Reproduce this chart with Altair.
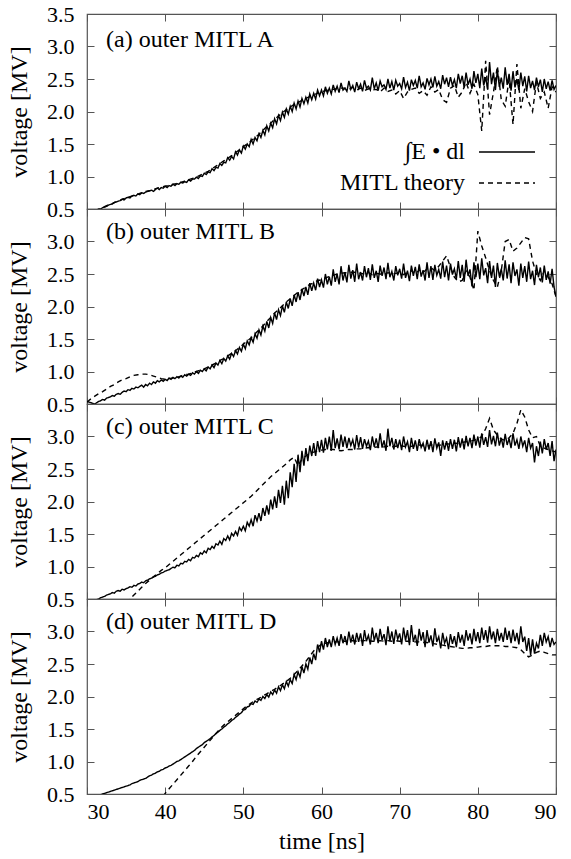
import altair as alt
import pandas as pd

SOLID = "∫E • dl"
DASHED = "MITL theory"
PANEL_TITLES = ["(a) outer MITL A", "(b) outer MITL B", "(c) outer MITL C", "(d) outer MITL D"]
X_TICKS = [30, 40, 50, 60, 70, 80, 90]
Y_TICKS = [0.5, 1.0, 1.5, 2.0, 2.5, 3.0, 3.5]
T0 = 30.0
SOLID_STEP = 0.25   # ns between solid-curve samples
DASHED_STEP = 0.5   # ns between dashed-curve samples

# ---------------- panel (a) ----------------
solid_a = [
    .42, .43, .44, .45,  .46, .47, .49, .50,  .52, .53, .54, .56,  .57, .58, .60, .61,
    .62, .63, .65, .64,  .67, .68, .67, .70,  .71, .70, .73, .72,  .75, .74, .76, .77,
    .78, .79, .77, .80,  .82, .80, .83, .82,  .85, .83, .86, .85,  .88, .86, .89, .88,
    .91, .90, .92, .91,  .95, .93, .96, .96,  .99, .97, 1.01, 1.00,  1.05, 1.03, 1.07, 1.06,
    1.12, 1.09, 1.14, 1.13,  1.20, 1.17, 1.22, 1.21,  1.29, 1.25, 1.31, 1.27,  1.38, 1.33, 1.41, 1.36,
    1.47, 1.42, 1.50, 1.46,  1.57, 1.50, 1.60, 1.55,  1.66, 1.60, 1.71, 1.64,  1.78, 1.70, 1.82, 1.75,
    1.89, 1.81, 1.94, 1.86,  1.99, 1.91, 2.04, 1.96,  2.08, 2.00, 2.13, 2.04,  2.16, 2.07, 2.20, 2.12,
    2.22, 2.13, 2.27, 2.18,  2.28, 2.19, 2.33, 2.24,  2.33, 2.24, 2.38, 2.28,  2.36, 2.27, 2.41, 2.31,
    2.39, 2.29, 2.44, 2.33,  2.36, 2.31, 2.47, 2.34,  2.40, 2.30, 2.45, 2.35,  2.42, 2.31, 2.48, 2.36,
    2.39, 2.33, 2.52, 2.35,  2.44, 2.32, 2.47, 2.38,  2.41, 2.34, 2.50, 2.36,  2.46, 2.33, 2.48, 2.39,
    2.43, 2.35, 2.53, 2.37,  2.45, 2.32, 2.49, 2.40,  2.48, 2.36, 2.55, 2.38,  2.44, 2.34, 2.51, 2.41,
    2.50, 2.37, 2.54, 2.39,  2.46, 2.35, 2.56, 2.42,  2.52, 2.38, 2.53, 2.40,  2.49, 2.36, 2.58, 2.43,
    2.55, 2.37, 2.60, 2.41,  2.50, 2.35, 2.62, 2.44,  2.58, 2.36, 2.66, 2.40,  2.53, 2.34, 2.76, 2.42,
    2.60, 2.33, 2.64, 2.38,  2.52, 2.35, 2.68, 2.41,  2.58, 2.32, 2.62, 2.37,  2.50, 2.33, 2.60, 2.39,
    2.54, 2.31, 2.55, 2.36,  2.47, 2.33, 2.52, 2.38,  2.49, 2.30, 2.50, 2.35,  2.46, 2.32, 2.48, 2.34,
    2.40,
]
dashed_a = [
    .42, .45, .47, .50, .52, .55, .57, .60, .62, .65, .67, .69, .71, .73, .75, .77, .78, .80, .82, .84,
    .85, .86, .88, .89, .91, .93, .95, .97, .99, 1.02, 1.05, 1.08, 1.12, 1.16, 1.20, 1.24, 1.28, 1.32, 1.37, 1.41,
    1.46, 1.50, 1.55, 1.60, 1.65, 1.71, 1.77, 1.82, 1.88, 1.93, 1.98, 2.03, 2.07, 2.11, 2.14, 2.17, 2.20, 2.23, 2.26, 2.28,
    2.30, 2.32, 2.33, 2.34, 2.35, 2.36, 2.36, 2.34, 2.37, 2.33, 2.36, 2.32, 2.35, 2.33, 2.34, 2.30, 2.36, 2.31, 2.33, 2.27,
    2.32, 2.20, 2.30, 2.34, 2.36, 2.28, 2.32, 2.25, 2.38, 2.30, 2.34, 2.18, 2.14, 2.36, 2.40, 2.22, 2.30, 2.45, 2.28, 2.42,
    2.26, 1.70, 2.78, 1.95, 2.30, 2.70, 2.18, 2.08, 2.50, 1.80, 2.73, 2.05, 2.35, 2.15, 2.00, 2.45, 2.20, 2.30, 2.05, 2.38,
    2.30,
]

# ---------------- panel (b) ----------------
solid_b = [
    .54, .53, .52, .51,  .50, .52, .54, .55,  .57, .56, .59, .60,  .61, .63, .62, .65,
    .66, .65, .68, .70,  .69, .72, .71, .74,  .73, .76, .75, .77,  .79, .76, .80, .78,
    .82, .80, .84, .82,  .86, .84, .87, .85,  .88, .86, .90, .88,  .91, .89, .92, .90,
    .93, .91, .95, .93,  .96, .94, .98, .96,  1.00, .97, 1.02, 1.00,  1.04, 1.01, 1.07, 1.04,
    1.10, 1.06, 1.13, 1.10,  1.17, 1.12, 1.20, 1.16,  1.24, 1.19, 1.28, 1.23,  1.32, 1.27, 1.37, 1.31,
    1.42, 1.35, 1.47, 1.41,  1.52, 1.45, 1.58, 1.51,  1.64, 1.56, 1.70, 1.62,  1.77, 1.67, 1.83, 1.74,
    1.90, 1.80, 1.95, 1.86,  2.01, 1.91, 2.07, 1.97,  2.12, 2.01, 2.18, 2.07,  2.22, 2.10, 2.27, 2.16,
    2.30, 2.18, 2.36, 2.24,  2.36, 2.25, 2.43, 2.30,  2.41, 2.29, 2.50, 2.34,  2.46, 2.32, 2.57, 2.38,
    2.50, 2.34, 2.62, 2.40,  2.53, 2.37, 2.64, 2.43,  2.56, 2.38, 2.66, 2.42,  2.53, 2.40, 2.62, 2.45,
    2.59, 2.41, 2.65, 2.44,  2.55, 2.38, 2.63, 2.47,  2.60, 2.42, 2.67, 2.45,  2.54, 2.40, 2.62, 2.48,
    2.58, 2.43, 2.66, 2.44,  2.55, 2.39, 2.63, 2.47,  2.61, 2.42, 2.65, 2.46,  2.56, 2.40, 2.68, 2.44,
    2.62, 2.41, 2.64, 2.48,  2.57, 2.43, 2.69, 2.45,  2.63, 2.40, 2.66, 2.49,  2.58, 2.42, 2.70, 2.44,
    2.64, 2.38, 2.72, 2.47,  2.57, 2.31, 2.68, 2.45,  2.66, 2.42, 2.74, 2.48,  2.59, 2.36, 2.70, 2.44,
    2.63, 2.30, 2.67, 2.46,  2.58, 2.40, 2.71, 2.43,  2.65, 2.36, 2.68, 2.47,  2.57, 2.32, 2.66, 2.44,
    2.62, 2.38, 2.69, 2.42,  2.55, 2.33, 2.64, 2.45,  2.60, 2.37, 2.63, 2.41,  2.54, 2.35, 2.58, 2.30,
    2.15,
]
dashed_b = [
    .53, .58, .62, .66, .69, .73, .77, .80, .84, .87, .89, .92, .94, .95, .96, .96, .95, .93, .91, .89,
    .88, .89, .90, .91, .93, .95, .96, .98, 1.00, 1.02, 1.04, 1.07, 1.10, 1.13, 1.17, 1.20, 1.24, 1.28, 1.32, 1.37,
    1.42, 1.47, 1.52, 1.58, 1.64, 1.70, 1.77, 1.83, 1.90, 1.95, 2.01, 2.07, 2.12, 2.17, 2.22, 2.26, 2.30, 2.34, 2.36, 2.40,
    2.41, 2.44, 2.46, 2.48, 2.50, 2.51, 2.52, 2.52, 2.53, 2.52, 2.51, 2.50, 2.52, 2.49, 2.51, 2.50, 2.49, 2.52, 2.50, 2.51,
    2.52, 2.49, 2.53, 2.55, 2.50, 2.56, 2.52, 2.58, 2.60, 2.55, 2.62, 2.70, 2.78, 2.60, 2.45, 2.38, 2.40, 2.55, 2.45, 2.25,
    3.16, 2.93, 2.75, 2.55, 2.40, 2.30, 2.55, 3.00, 3.03, 2.85, 2.90, 2.98, 3.06, 3.04, 2.70, 2.50, 2.40, 2.55, 2.45, 2.35,
    2.15,
]

# ---------------- panel (c) ----------------
solid_c = [
    .40, .42, .44, .45,  .47, .49, .50, .52,  .53, .54, .56, .57,  .58, .60, .59, .62,
    .63, .62, .65, .64,  .66, .67, .69, .68,  .71, .70, .73, .74,  .76, .75, .78, .79,
    .81, .82, .84, .85,  .87, .88, .90, .91,  .93, .94, .95, .97,  .99, .98, 1.02, 1.01,
    1.05, 1.04, 1.08, 1.07,  1.11, 1.09, 1.14, 1.13,  1.17, 1.15, 1.21, 1.19,  1.24, 1.21, 1.28, 1.26,
    1.31, 1.28, 1.35, 1.33,  1.39, 1.34, 1.43, 1.40,  1.47, 1.41, 1.51, 1.47,  1.54, 1.48, 1.60, 1.55,
    1.62, 1.55, 1.68, 1.62,  1.72, 1.62, 1.79, 1.70,  1.82, 1.70, 1.90, 1.78,  1.94, 1.80, 2.03, 1.88,
    2.08, 1.90, 2.18, 1.98,  2.24, 1.95, 2.32, 2.05,  2.45, 2.22, 2.58, 2.30,  2.72, 2.45, 2.78, 2.55,
    2.82, 2.62, 2.86, 2.70,  2.90, 2.70, 2.93, 2.76,  2.95, 2.75, 2.98, 2.80,  3.00, 2.78, 3.10, 2.82,
    2.97, 2.80, 3.03, 2.84,  3.00, 2.82, 2.98, 2.86,  2.95, 2.80, 3.02, 2.83,  2.99, 2.81, 2.96, 2.85,
    2.93, 2.79, 3.00, 2.84,  2.97, 2.82, 3.05, 2.83,  2.94, 2.78, 3.12, 2.85,  2.98, 2.80, 2.96, 2.82,
    2.95, 2.79, 3.00, 2.84,  2.92, 2.76, 2.98, 2.81,  2.94, 2.78, 2.96, 2.83,  2.90, 2.77, 2.95, 2.80,
    2.93, 2.76, 2.97, 2.82,  2.91, 2.70, 2.94, 2.80,  2.93, 2.78, 2.96, 2.81,  2.95, 2.77, 2.99, 2.83,
    2.97, 2.80, 3.01, 2.85,  2.98, 2.82, 3.03, 2.86,  3.00, 2.83, 3.05, 2.87,  2.99, 2.84, 3.10, 2.88,
    3.01, 2.85, 3.06, 2.86,  2.98, 2.83, 3.04, 2.87,  2.97, 2.82, 3.05, 2.86,  2.95, 2.81, 3.00, 2.85,
    2.94, 2.76, 2.98, 2.82,  2.90, 2.60, 2.85, 2.70,  2.92, 2.74, 2.96, 2.80,  2.90, 2.70, 2.93, 2.62,
    2.80,
]
dashed_c = [
    None, None, None, None, None, None, None, None, None, None,
    .44, .50, .56, .62, .68, .74, .79, .84, .89, .94,
    .98, 1.03, 1.08, 1.13, 1.18, 1.23, 1.28, 1.33, 1.38, 1.43, 1.48, 1.53, 1.58, 1.63, 1.68, 1.73, 1.78, 1.83, 1.88, 1.93,
    1.98, 2.03, 2.08, 2.14, 2.20, 2.26, 2.32, 2.38, 2.43, 2.48, 2.53, 2.58, 2.64, 2.68, 2.55, 2.65, 2.70, 2.74, 2.76, 2.78,
    2.79, 2.80, 2.80, 2.80, 2.79, 2.78, 2.79, 2.80, 2.80, 2.81, 2.81, 2.82, 2.83, 2.82, 2.84, 2.83, 2.84, 2.85, 2.84, 2.85,
    2.86, 2.85, 2.84, 2.85, 2.86, 2.87, 2.86, 2.85, 2.87, 2.88, 2.86, 2.88, 2.89, 2.88, 2.90, 2.89, 2.91, 2.92, 2.93, 2.94,
    2.96, 3.00, 3.12, 3.28, 3.10, 3.02, 2.96, 2.94, 2.98, 3.05, 3.20, 3.41, 3.30, 3.10, 2.98, 3.00, 2.85, 2.82, 2.80, 2.78,
    2.76,
]

# ---------------- panel (d) ----------------
solid_d = [
    .40, .42, .44, .45,  .46, .47, .48, .49,  .50, .51, .52, .53,  .54, .55, .56, .57,
    .58, .59, .60, .61,  .62, .63, .64, .66,  .67, .68, .69, .71,  .72, .73, .74, .76,
    .78, .79, .81, .82,  .84, .85, .87, .88,  .90, .91, .93, .94,  .96, .98, 1.00, 1.01,
    1.03, 1.05, 1.07, 1.09,  1.11, 1.13, 1.15, 1.17,  1.20, 1.22, 1.24, 1.26,  1.29, 1.31, 1.33, 1.35,
    1.38, 1.40, 1.43, 1.45,  1.48, 1.50, 1.53, 1.55,  1.58, 1.60, 1.63, 1.65,  1.68, 1.70, 1.73, 1.75,
    1.79, 1.80, 1.84, 1.85,  1.89, 1.88, 1.93, 1.91,  1.96, 1.94, 2.00, 1.97,  2.03, 1.99, 2.07, 2.03,
    2.10, 2.05, 2.15, 2.09,  2.18, 2.12, 2.23, 2.16,  2.26, 2.20, 2.34, 2.26,  2.38, 2.30, 2.46, 2.36,
    2.50, 2.42, 2.60, 2.50,  2.66, 2.56, 2.80, 2.68,  2.85, 2.72, 2.90, 2.76,  2.88, 2.76, 2.93, 2.80,
    2.90, 2.78, 2.96, 2.82,  2.93, 2.79, 3.00, 2.83,  2.95, 2.80, 2.98, 2.84,  2.97, 2.78, 3.02, 2.85,
    2.94, 2.80, 3.06, 2.86,  2.98, 2.82, 3.04, 2.87,  2.96, 2.79, 3.08, 2.85,  3.00, 2.81, 3.03, 2.88,
    2.97, 2.80, 3.06, 2.86,  3.02, 2.79, 3.10, 2.84,  2.95, 2.78, 3.04, 2.86,  2.99, 2.76, 3.02, 2.83,
    2.94, 2.77, 3.05, 2.84,  2.92, 2.74, 2.98, 2.82,  2.90, 2.73, 2.96, 2.81,  2.93, 2.76, 2.99, 2.83,
    2.95, 2.78, 3.02, 2.86,  2.97, 2.80, 3.04, 2.85,  2.99, 2.82, 3.06, 2.87,  3.02, 2.83, 3.08, 2.88,
    3.00, 2.82, 3.04, 2.86,  2.98, 2.84, 3.06, 2.87,  3.01, 2.82, 3.03, 2.85,  2.98, 2.80, 3.08, 2.84,
    2.92, 2.70, 2.90, 2.64,  2.88, 2.66, 2.82, 2.74,  2.95, 2.78, 2.98, 2.84,  2.92, 2.76, 2.90, 2.80,
    2.84,
]
dashed_d = [
    None, None, None, None, None, None, None, None, None, None,
    None, None, None, None, None, None, None, None, .36, .43,
    .51, .58, .65, .72, .79, .86, .93, 1.00, 1.08, 1.15, 1.22, 1.29, 1.36, 1.43, 1.50, 1.56, 1.61, 1.66, 1.71, 1.76,
    1.81, 1.86, 1.90, 1.94, 1.97, 2.01, 2.04, 2.08, 2.11, 2.15, 2.19, 2.23, 2.28, 2.34, 2.40, 2.47, 2.54, 2.62, 2.70, 2.76,
    2.80, 2.82, 2.83, 2.84, 2.84, 2.85, 2.85, 2.85, 2.86, 2.85, 2.86, 2.86, 2.86, 2.85, 2.85, 2.86, 2.85, 2.86, 2.85, 2.86,
    2.85, 2.85, 2.85, 2.84, 2.84, 2.84, 2.83, 2.83, 2.82, 2.81, 2.80, 2.79, 2.78, 2.77, 2.76, 2.75, 2.74, 2.74, 2.75, 2.75,
    2.76, 2.77, 2.77, 2.78, 2.78, 2.78, 2.78, 2.77, 2.77, 2.76, 2.75, 2.72, 2.66, 2.61, 2.64, 2.68, 2.70, 2.68, 2.66, 2.64,
    2.64,
]

SERIES = [
    (solid_a, dashed_a),
    (solid_b, dashed_b),
    (solid_c, dashed_c),
    (solid_d, dashed_d),
]

FONT = "Liberation Serif, Times New Roman, DejaVu Serif, serif"


def rows(values, step, label):
    out = []
    for i, v in enumerate(values):
        if v is None:
            continue
        out.append({"t": round(T0 + step * i, 3), "v": v, "series": label})
    return out


def make_panel(idx):
    solid, dashed = SERIES[idx]
    df = pd.DataFrame(rows(solid, SOLID_STEP, SOLID) + rows(dashed, DASHED_STEP, DASHED))
    first = idx == 0
    last = idx == len(SERIES) - 1
    xs = alt.Scale(domain=[30, 90], nice=False, zero=False)
    ys = alt.Scale(domain=[0.5, 3.5], nice=False, zero=False)

    x_axis_kw = dict(orient="bottom", values=X_TICKS, offset=-7, tickSize=7, domain=False,
                     labels=last, labelPadding=7, titlePadding=7, format="d")
    y_kw = dict(orient="left", values=Y_TICKS, offset=-7, tickSize=7, domain=False,
                format=".1f", labelPadding=13, titlePadding=15)
    if not first:
        # the 3.5 label of a lower panel would sit on the 0.5 of the panel above: leave it blank
        y_kw["labelExpr"] = "datum.value > 3.4 ? '' : datum.label"
    y_axis = alt.Axis(**y_kw)

    dash_kw = dict(scale=alt.Scale(domain=[SOLID, DASHED], range=[[1, 0], [5, 4]]))
    if first:
        dash_kw["legend"] = alt.Legend(
            orient="none", legendX=354, legendY=126, title=None,
            symbolType="M5.2,0L16.4,0", symbolSize=100, symbolStrokeWidth=1.6,
            symbolStrokeColor="black", symbolFillColor="transparent",
            labelAlign="right", labelOffset=0, labelFont=FONT, labelFontSize=24,
            labelColor="black", rowPadding=7, labelLimit=300,
        )
    else:
        dash_kw["legend"] = None

    x_enc = alt.X("t:Q", scale=xs, axis=alt.Axis(**x_axis_kw),
                  title="time [ns]" if last else None)
    main = alt.Chart(df).mark_line(strokeWidth=1.4, clip=True, color="black").encode(
        x=x_enc,
        y=alt.Y("v:Q", scale=ys, axis=y_axis, title="voltage [MV]"),
        strokeDash=alt.StrokeDash("series:N", **dash_kw),
    )
    mirror = alt.Chart(df).mark_line(opacity=0).encode(
        x=alt.X("t:Q", scale=xs, title=None,
                axis=alt.Axis(orient="top", values=X_TICKS, offset=-7, tickSize=7,
                              domain=False, labels=False)),
        y=alt.Y("v:Q", scale=ys, title=None,
                axis=alt.Axis(orient="right", values=Y_TICKS, offset=-7, tickSize=7,
                              domain=False, labels=False)),
    )
    return alt.layer(main, mirror).resolve_axis(x="independent", y="independent").properties(
        width=469, height=195,
        title=alt.TitleParams(PANEL_TITLES[idx], anchor="start", orient="top", frame="group",
                              offset=-29, dx=19, dy=32 if first else 18, baseline="middle",
                              fontSize=24, font=FONT, fontWeight="normal", color="black"),
    )


panels = [make_panel(i) for i in range(4)]

chart = alt.vconcat(*panels, spacing=0, bounds="flush").resolve_scale(
    strokeDash="independent"
).properties(
    padding={"left": 6, "top": 2, "right": 2, "bottom": 2}
).configure_axis(
    labelFont=FONT, labelFontSize=22, labelColor="black",
    titleFont=FONT, titleFontSize=24, titleColor="black", titleFontWeight="normal",
    tickColor="#555555", tickWidth=1, grid=False,
).configure_view(
    stroke="#555555", strokeWidth=1.2
).configure_legend(
    padding=0
)

chart.save("out.html", embed_options={"renderer": "svg", "actions": False})
